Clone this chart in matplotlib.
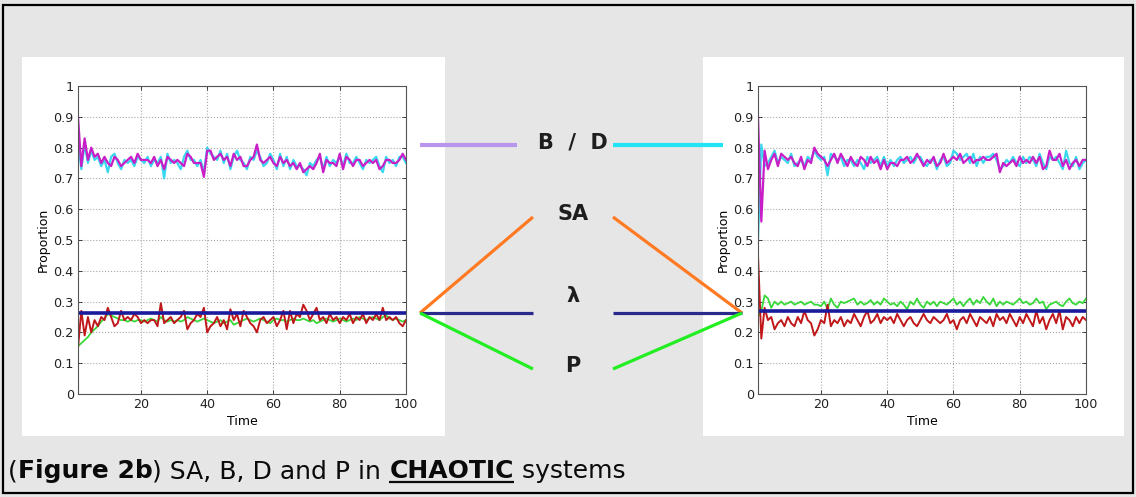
import matplotlib
matplotlib.use('Agg')
import matplotlib.pyplot as plt
from matplotlib.patches import Rectangle
from matplotlib.lines import Line2D
import numpy as np

W, H = 1136, 497

time = list(range(1, 101))

# left panel (first run)
left_B = [0.82, 0.73, 0.81, 0.75, 0.79, 0.76, 0.77, 0.74, 0.76, 0.72,
          0.77, 0.78, 0.75, 0.73, 0.76, 0.75, 0.76, 0.74, 0.77, 0.76,
          0.75, 0.77, 0.74, 0.76, 0.75, 0.77, 0.70, 0.78, 0.75, 0.76,
          0.75, 0.73, 0.77, 0.79, 0.76, 0.76, 0.74, 0.76, 0.72, 0.80,
          0.78, 0.77, 0.76, 0.79, 0.75, 0.78, 0.73, 0.77, 0.79, 0.76,
          0.75, 0.73, 0.77, 0.76, 0.79, 0.77, 0.74, 0.75, 0.78, 0.76,
          0.73, 0.78, 0.74, 0.77, 0.73, 0.76, 0.74, 0.74, 0.73, 0.71,
          0.75, 0.74, 0.76, 0.77, 0.73, 0.77, 0.74, 0.76, 0.75, 0.77,
          0.74, 0.78, 0.75, 0.75, 0.77, 0.75, 0.73, 0.76, 0.75, 0.76,
          0.77, 0.74, 0.72, 0.77, 0.75, 0.76, 0.74, 0.77, 0.77, 0.75]
left_D = [0.90, 0.74, 0.83, 0.76, 0.80, 0.77, 0.78, 0.75, 0.77, 0.75,
          0.74, 0.77, 0.76, 0.74, 0.75, 0.76, 0.77, 0.75, 0.78, 0.76,
          0.76, 0.76, 0.75, 0.77, 0.74, 0.76, 0.73, 0.77, 0.76, 0.75,
          0.76, 0.75, 0.74, 0.78, 0.77, 0.75, 0.75, 0.75, 0.705, 0.79,
          0.79, 0.76, 0.77, 0.78, 0.76, 0.77, 0.74, 0.78, 0.76, 0.77,
          0.74, 0.74, 0.76, 0.77, 0.81, 0.76, 0.75, 0.76, 0.77, 0.75,
          0.74, 0.77, 0.75, 0.76, 0.74, 0.75, 0.73, 0.75, 0.72, 0.73,
          0.74, 0.73, 0.75, 0.78, 0.72, 0.76, 0.75, 0.75, 0.74, 0.78,
          0.73, 0.77, 0.76, 0.74, 0.76, 0.76, 0.74, 0.75, 0.76, 0.75,
          0.76, 0.73, 0.74, 0.76, 0.76, 0.75, 0.75, 0.76, 0.78, 0.76]
left_SA = [0.15, 0.27, 0.19, 0.25, 0.20, 0.24, 0.22, 0.25, 0.24, 0.28,
           0.25, 0.22, 0.23, 0.27, 0.24, 0.25, 0.24, 0.26, 0.25, 0.23,
           0.24, 0.23, 0.24, 0.24, 0.22, 0.295, 0.23, 0.24, 0.25, 0.23,
           0.24, 0.25, 0.27, 0.21, 0.23, 0.24, 0.26, 0.25, 0.28, 0.20,
           0.22, 0.23, 0.25, 0.22, 0.24, 0.21, 0.275, 0.24, 0.26, 0.22,
           0.27, 0.25, 0.23, 0.22, 0.20, 0.24, 0.25, 0.23, 0.24, 0.25,
           0.22, 0.24, 0.27, 0.21, 0.27, 0.23, 0.26, 0.25, 0.29, 0.27,
           0.24, 0.26, 0.28, 0.24, 0.25, 0.23, 0.26, 0.24, 0.25, 0.23,
           0.25, 0.24, 0.26, 0.23, 0.25, 0.24, 0.26, 0.23, 0.25, 0.24,
           0.26, 0.24, 0.28, 0.24, 0.25, 0.24, 0.25, 0.23, 0.22, 0.24]
left_P = [0.155, 0.165, 0.175, 0.185, 0.20, 0.21, 0.22, 0.235, 0.245, 0.26,
          0.255, 0.25, 0.245, 0.24, 0.24, 0.235, 0.24, 0.235, 0.24, 0.24,
          0.235, 0.24, 0.245, 0.24, 0.235, 0.25, 0.24, 0.235, 0.24, 0.235,
          0.24, 0.235, 0.24, 0.25, 0.245, 0.24, 0.235, 0.24, 0.245, 0.24,
          0.235, 0.23, 0.235, 0.24, 0.23, 0.235, 0.24, 0.225, 0.23, 0.235,
          0.24, 0.245, 0.24, 0.235, 0.24, 0.245, 0.24, 0.235, 0.23, 0.24,
          0.245, 0.24, 0.24, 0.235, 0.24, 0.245, 0.24, 0.24, 0.245, 0.24,
          0.235, 0.24, 0.23, 0.235, 0.24, 0.245, 0.24, 0.235, 0.24, 0.245,
          0.24, 0.235, 0.24, 0.245, 0.24, 0.25, 0.245, 0.24, 0.245, 0.25,
          0.245, 0.24, 0.25, 0.255, 0.245, 0.24, 0.245, 0.24, 0.235, 0.24]
left_lambda = 0.263

# right panel (second run)
right_B = [0.50, 0.81, 0.74, 0.75, 0.77, 0.79, 0.75, 0.77, 0.76, 0.75,
           0.78, 0.74, 0.75, 0.76, 0.74, 0.77, 0.76, 0.79, 0.77, 0.76,
           0.77, 0.71, 0.78, 0.77, 0.76, 0.77, 0.74, 0.76, 0.76, 0.74,
           0.76, 0.75, 0.73, 0.77, 0.75, 0.76, 0.77, 0.74, 0.77, 0.74,
           0.76, 0.74, 0.76, 0.77, 0.75, 0.76, 0.77, 0.75, 0.77, 0.77,
           0.75, 0.74, 0.76, 0.76, 0.73, 0.76, 0.77, 0.74, 0.75, 0.79,
           0.78, 0.76, 0.77, 0.78, 0.75, 0.78, 0.74, 0.77, 0.75, 0.77,
           0.77, 0.78, 0.76, 0.73, 0.74, 0.76, 0.75, 0.77, 0.75, 0.74,
           0.77, 0.75, 0.77, 0.76, 0.74, 0.78, 0.75, 0.73, 0.77, 0.76,
           0.77, 0.75, 0.73, 0.79, 0.75, 0.74, 0.77, 0.73, 0.75, 0.76]
right_D = [0.90, 0.56, 0.79, 0.73, 0.76, 0.78, 0.74, 0.78, 0.77, 0.76,
           0.77, 0.75, 0.74, 0.77, 0.73, 0.76, 0.75, 0.80, 0.78, 0.77,
           0.76, 0.74, 0.76, 0.78, 0.75, 0.78, 0.76, 0.74, 0.77, 0.75,
           0.74, 0.77, 0.76, 0.74, 0.77, 0.75, 0.76, 0.73, 0.76, 0.73,
           0.75, 0.75, 0.74, 0.76, 0.76, 0.77, 0.75, 0.76, 0.78, 0.76,
           0.74, 0.76, 0.75, 0.77, 0.74, 0.75, 0.78, 0.75, 0.76, 0.77,
           0.76, 0.78, 0.75, 0.76, 0.77, 0.75, 0.76, 0.76, 0.77, 0.76,
           0.76, 0.77, 0.78, 0.72, 0.75, 0.74, 0.75, 0.76, 0.74, 0.77,
           0.75, 0.76, 0.75, 0.77, 0.75, 0.77, 0.73, 0.74, 0.79, 0.76,
           0.76, 0.78, 0.74, 0.76, 0.73, 0.75, 0.76, 0.74, 0.76, 0.76]
right_SA = [0.45, 0.18, 0.28, 0.24, 0.25, 0.21, 0.23, 0.24, 0.22, 0.25,
            0.23, 0.22, 0.25, 0.23, 0.27, 0.24, 0.23, 0.19, 0.21, 0.24,
            0.23, 0.29, 0.22, 0.24, 0.23, 0.25, 0.22, 0.24, 0.23, 0.26,
            0.24, 0.22, 0.25, 0.27, 0.23, 0.24, 0.26, 0.23, 0.25, 0.24,
            0.25, 0.23, 0.26, 0.24, 0.22, 0.24, 0.25, 0.23, 0.22, 0.24,
            0.26, 0.24, 0.23, 0.25, 0.24, 0.23, 0.24, 0.26, 0.23, 0.24,
            0.21, 0.24, 0.25, 0.23, 0.26, 0.24, 0.22, 0.25, 0.24, 0.23,
            0.25, 0.22, 0.26, 0.24, 0.25, 0.23, 0.26, 0.24, 0.22, 0.25,
            0.23, 0.26, 0.24, 0.22, 0.27, 0.23, 0.25, 0.21, 0.24, 0.26,
            0.23, 0.27, 0.21, 0.25, 0.24, 0.22, 0.25, 0.23, 0.25, 0.24]
right_P = [0.25, 0.27, 0.32, 0.31, 0.28, 0.30, 0.29, 0.30, 0.29, 0.295,
           0.30, 0.29, 0.295, 0.30, 0.29, 0.295, 0.30, 0.29, 0.29, 0.285,
           0.30, 0.275, 0.31, 0.29, 0.28, 0.30, 0.295, 0.30, 0.305, 0.31,
           0.29, 0.30, 0.29, 0.295, 0.305, 0.29, 0.30, 0.29, 0.31, 0.30,
           0.29, 0.295, 0.285, 0.30, 0.29, 0.275, 0.30, 0.29, 0.31, 0.29,
           0.28, 0.30, 0.29, 0.30, 0.285, 0.30, 0.295, 0.29, 0.30, 0.31,
           0.29, 0.30, 0.285, 0.30, 0.31, 0.29, 0.305, 0.295, 0.315, 0.30,
           0.29, 0.31, 0.285, 0.30, 0.29, 0.30, 0.295, 0.29, 0.30, 0.31,
           0.295, 0.30, 0.29, 0.295, 0.31, 0.295, 0.30, 0.275, 0.29, 0.295,
           0.30, 0.29, 0.285, 0.30, 0.31, 0.295, 0.29, 0.30, 0.295, 0.31]
right_lambda = 0.268

y_ticks = [0, 0.1, 0.2, 0.3, 0.4, 0.5, 0.6, 0.7, 0.8, 0.9, 1]
x_ticks = [20, 40, 60, 80, 100]

c_B = '#3ad8ee'
c_D = '#c81ec8'
c_SA = '#c0181a'
c_P = '#38d838'
c_lam = '#1a1a9c'


def px(x, y):
    # pixel position -> figure fraction
    return x / W, 1 - y / H


fig = plt.figure(figsize=(W / 100, H / 100), dpi=100, facecolor='#e6e6e6')

# frame and white panels
fig.add_artist(Rectangle(px(3, 493), 1130 / W, 488 / H, transform=fig.transFigure,
                         fill=False, edgecolor='black', linewidth=1.6))
for x0, x1 in [(22, 445), (703, 1124)]:
    fig.add_artist(Rectangle(px(x0, 436), (x1 - x0) / W, 379 / H,
                             transform=fig.transFigure, facecolor='white',
                             edgecolor='none', zorder=0))


def draw_panel(left_px, B, D, SA, P, lam):
    x0, y0 = px(left_px, 394)
    ax = fig.add_axes([x0, y0, 328 / W, 308 / H])
    ax.plot(time, B, color=c_B, lw=1.6)
    ax.plot(time, D, color=c_D, lw=1.6)
    ax.plot(time, P, color=c_P, lw=1.3)
    ax.plot(time, SA, color=c_SA, lw=1.4)
    ax.plot(time, [lam] * len(time), color=c_lam, lw=2.6)
    ax.set_xlim(1, 100)
    ax.set_ylim(0, 1)
    ax.set_xticks(x_ticks)
    ax.set_yticks(y_ticks)
    ax.set_yticklabels([f'{v:g}' for v in y_ticks])
    ax.grid(True, linestyle=':', color='#a8a8a8', linewidth=0.8)
    ax.tick_params(direction='in', top=True, right=True, labelsize=9.2,
                   length=3, width=0.6, colors='#222222', pad=3)
    for s in ax.spines.values():
        s.set_color('#555555')
        s.set_linewidth(0.8)
    ax.set_xlabel('Time', fontsize=9, labelpad=2.5)
    ax.set_ylabel('Proportion', fontsize=9, labelpad=3)
    return ax


draw_panel(78, left_B, left_D, left_SA, left_P, left_lambda)
draw_panel(758, right_B, right_D, right_SA, right_P, right_lambda)

# connector lines in the middle
def seg(p, q, color, lw):
    a, b = px(*p), px(*q)
    fig.add_artist(Line2D([a[0], b[0]], [a[1], b[1]], color=color, lw=lw,
                          transform=fig.transFigure, solid_capstyle='butt'))

seg((420, 145), (517, 145), '#b896ee', 3.0)
seg((613, 145), (723, 145), '#22e4f4', 3.0)
seg((420, 313), (533, 217), '#ff7a22', 2.3)
seg((613, 217), (742, 313), '#ff7a22', 2.3)
seg((420, 313), (533, 313), '#2a2a8c', 2.3)
seg((613, 313), (742, 313), '#2a2a8c', 2.3)
seg((420, 313), (533, 369), '#22ee22', 2.3)
seg((613, 369), (742, 313), '#22ee22', 2.3)

for label, yy in [('B  /  D', 142), ('SA', 214), ('λ', 296), ('P', 366)]:
    fig.text(*px(573, yy), label, ha='center', va='center', fontsize=15,
             fontweight='bold', color='#1e1e1e')

# caption, drawn in pieces so CHAOTIC can be underlined
pieces = [('(', 'normal'), ('Figure 2b', 'bold'), (') SA, B, D and P in ', 'normal'),
          ('CHAOTIC', 'bold'), (' systems', 'normal')]
renderer = fig.canvas.get_renderer()
xpos = 8
base_y = 478
for txt, wt in pieces:
    t = fig.text(*px(xpos, base_y), txt, fontsize=18, fontweight=wt,
                 va='baseline', ha='left', color='#0a0a0a')
    bb = t.get_window_extent(renderer)
    if txt == 'CHAOTIC':
        seg((xpos, base_y + 4), (xpos + bb.width, base_y + 4), '#0a0a0a', 1.6)
    xpos += bb.width

fig.savefig('out.png', dpi=100, facecolor=fig.get_facecolor())
